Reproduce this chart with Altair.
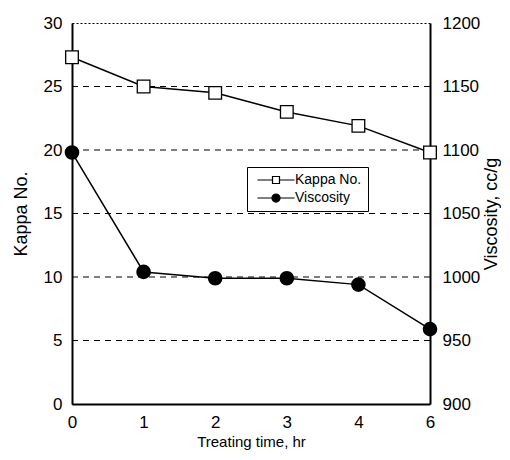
import altair as alt
import pandas as pd

times = ["0", "1", "2", "3", "4", "6"]
kappa = [27.3, 25.0, 24.5, 23.0, 21.9, 19.8]
viscosity = [1098, 1004, 999, 999, 994, 959]
series_names = ["Kappa No.", "Viscosity"]
kappa_ticks = [0, 5, 10, 15, 20, 25, 30]
visc_ticks = [900, 950, 1000, 1050, 1100, 1150, 1200]
grid_levels = [5, 10, 15, 20, 25]

FONT = "Liberation Sans"

df = pd.DataFrame({"time": times, "kappa": kappa, "viscosity": viscosity})
grid_df = pd.DataFrame({"level": grid_levels})
legend_df = pd.DataFrame({"series": series_names})

x_enc = alt.X(
    "time:O",
    sort=times,
    scale=alt.Scale(padding=0),
    axis=alt.Axis(
        title="Treating time, hr",
        labelAngle=0,
        ticks=False,
        domainWidth=2,
        domainColor="black",
        labelPadding=10,
        labelFontSize=17,
        titleFontSize=15,
        titlePadding=4,
    ),
)


def kappa_scale():
    return alt.Scale(domain=[0, 30], nice=False, zero=False)


def visc_scale():
    return alt.Scale(domain=[900, 1200], nice=False, zero=False)


grid = alt.Chart(grid_df).mark_rule(color="black", strokeWidth=1, strokeDash=[6, 5]).encode(
    y=alt.Y("level:Q", scale=kappa_scale(), axis=None)
)

kappa_y_axis = alt.Y(
    "kappa:Q",
    scale=kappa_scale(),
    axis=alt.Axis(
        orient="left",
        values=kappa_ticks,
        format="d",
        grid=False,
        ticks=False,
        domainWidth=2,
        domainColor="black",
        labelPadding=10,
        labelFontSize=17,
        title="Kappa No.",
        titleFontSize=18,
        titlePadding=13,
    ),
)
kappa_y_plain = alt.Y("kappa:Q", scale=kappa_scale(), axis=None)

kappa_line = alt.Chart(df).mark_line(color="black", strokeWidth=1.5).encode(x=x_enc, y=kappa_y_axis)
kappa_pts = alt.Chart(df).mark_point(
    shape="square", size=160, filled=True, fill="white", stroke="black", strokeWidth=1.3, opacity=1
).encode(x=x_enc, y=kappa_y_plain)

visc_y_axis = alt.Y(
    "viscosity:Q",
    scale=visc_scale(),
    axis=alt.Axis(
        orient="right",
        values=visc_ticks,
        format="d",
        grid=False,
        ticks=False,
        domainWidth=2,
        domainColor="black",
        labelPadding=12,
        labelFontSize=17,
        title="Viscosity, cc/g",
        titleFontSize=18,
        titleAngle=270,
        titlePadding=21,
    ),
)
visc_y_plain = alt.Y("viscosity:Q", scale=visc_scale(), axis=None)

visc_line = alt.Chart(df).mark_line(color="black", strokeWidth=1.5).encode(x=x_enc, y=visc_y_axis)
visc_pts = alt.Chart(df).mark_point(
    shape="circle", size=160, filled=True, fill="black", stroke="black", opacity=1
).encode(x=x_enc, y=visc_y_plain)

kappa_path = "M-5.3,0L-1,0M-1,-1L1,-1L1,1L-1,1ZM1,0L5.3,0"
visc_path = "M-5.3,0L5.3,0M1.15,0A1.15,1.15,0,1,1,-1.15,0A1.15,1.15,0,1,1,1.15,0Z"

legend_props = dict(
    title=None,
    orient="none",
    legendX=175,
    legendY=144,
    symbolSize=49,
    symbolOpacity=1,
    symbolStrokeWidth=1.2,
    symbolOffset=16,
    labelOffset=12,
    labelFontSize=14,
    labelFont=FONT,
    labelColor="black",
    strokeColor="black",
    fillColor="white",
    padding=6,
    rowPadding=4,
)

legend_layer = alt.Chart(legend_df).mark_point(filled=True, opacity=0).encode(
    shape=alt.Shape(
        "series:N",
        scale=alt.Scale(domain=series_names, range=[kappa_path, visc_path]),
        legend=alt.Legend(**legend_props),
    ),
    fill=alt.Fill(
        "series:N",
        scale=alt.Scale(domain=series_names, range=["white", "black"]),
        legend=alt.Legend(**legend_props),
    ),
    stroke=alt.Stroke(
        "series:N",
        scale=alt.Scale(domain=series_names, range=["black", "black"]),
        legend=alt.Legend(**legend_props),
    ),
)

chart = (
    alt.layer(grid, kappa_line, kappa_pts, visc_line, visc_pts, legend_layer)
    .resolve_scale(y="independent")
    .properties(
        width=358,
        height=381,
        autosize=alt.AutoSizeParams(type="none"),
        padding={"left": 64, "top": 15, "right": 71, "bottom": 47},
        background="white",
    )
    .configure_view(stroke="black", strokeDash=[2, 2], strokeWidth=1)
    .configure_axis(
        labelFont=FONT,
        titleFont=FONT,
        labelColor="black",
        titleColor="black",
        titleFontWeight="normal",
    )
)

chart.save("out.html", embed_options={"renderer": "svg", "actions": False})
